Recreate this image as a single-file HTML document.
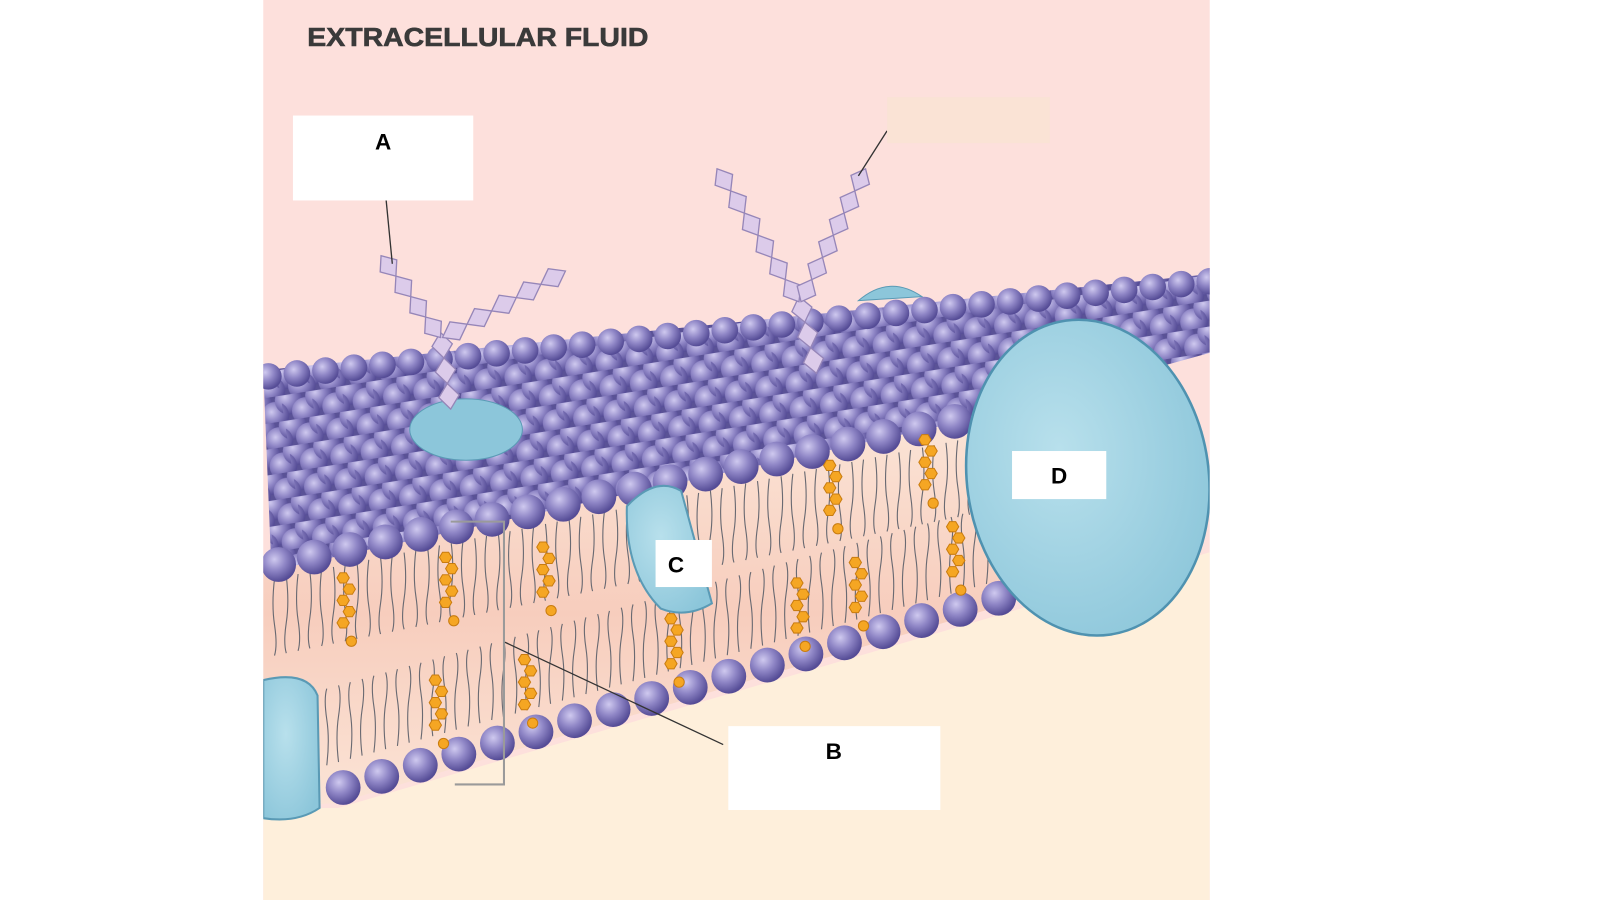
<!DOCTYPE html>
<html><head><meta charset="utf-8"><style>
html,body{margin:0;padding:0;background:#fff;width:1600px;height:900px;overflow:hidden}
svg{display:block}
</style></head><body>
<svg id="s" width="1600" height="900" viewBox="0 0 1562 880" preserveAspectRatio="none" xmlns="http://www.w3.org/2000/svg">
<defs>
<radialGradient id="ball" cx="0.38" cy="0.35" r="0.65">
<stop offset="0" stop-color="#cfc9ef"/><stop offset="0.5" stop-color="#8f86c6"/><stop offset="1" stop-color="#554c96"/>
</radialGradient>
<radialGradient id="prot" cx="0.4" cy="0.4" r="0.7">
<stop offset="0" stop-color="#b8e0ec"/><stop offset="1" stop-color="#8cc6da"/>
</radialGradient>
<pattern id="heads" width="30" height="25" patternUnits="userSpaceOnUse" patternTransform="rotate(-9)">
<rect width="30" height="25" fill="#5a5296"/>
<circle cx="7" cy="6" r="13.5" fill="url(#ball)"/>
<circle cx="22" cy="18.5" r="13.5" fill="url(#ball)"/>
<circle cx="37" cy="6" r="13.5" fill="url(#ball)"/>
<circle cx="-8" cy="18.5" r="13.5" fill="url(#ball)"/>
</pattern>
<linearGradient id="side" x1="0" y1="0" x2="0" y2="1">
<stop offset="0" stop-color="#fbe4d6"/><stop offset="0.5" stop-color="#f7cdbd"/><stop offset="1" stop-color="#fbe4d6"/>
</linearGradient>
<clipPath id="panel"><rect x="257" y="0" width="924" height="880"/></clipPath>
</defs>
<rect x="257" y="0" width="924" height="880" fill="#fde0dc"/>
<g clip-path="url(#panel)">
<polygon points="257,790 330,790 980,600 1181,540 1181,880 257,880" fill="#feefdb"/>
<polygon points="257,555 940,410 985,590 330,785 257,790" fill="url(#side)"/>
<g id="tails" stroke="#6a6a72" stroke-width="1.1" fill="none"></g>
<polygon points="257,362 1181,268 1181,345 940,412 265,558" fill="url(#heads)"/>
<g id="back"></g>
<g id="front"></g>
<g id="bottom"></g>
<g id="chol" fill="#f5a623" stroke="#c97c10" stroke-width="1"></g>
<ellipse cx="455" cy="420" rx="55" ry="30" fill="#8cc6da" stroke="#5a9ab5"/>
<path d="M838,294 Q868,268 900,290 Z" fill="#8cc6da" stroke="#5a9ab5"/>
<path d="M612,495 Q640,465 665,480 L695,590 Q670,605 645,595 Q610,560 612,495 Z" fill="url(#prot)" stroke="#5a9ab5" stroke-width="2"/>
<path d="M257,665 Q300,655 310,680 L312,790 Q290,805 257,800 Z" fill="url(#prot)" stroke="#5a9ab5" stroke-width="2"/>
<ellipse cx="1062" cy="467" rx="118" ry="155" transform="rotate(-8 1062 467)" fill="url(#prot)" stroke="#4f92b0" stroke-width="2.5"/>
</g>
<text x="300" y="45" font-family="Liberation Sans, sans-serif" font-weight="bold" font-size="25" fill="#3a3a3a" stroke="#3a3a3a" stroke-width="0.6" textLength="333" lengthAdjust="spacingAndGlyphs">EXTRACELLULAR  FLUID</text>
<g id="glyco" fill="#dccbea" stroke="#9686b8" stroke-width="1.3"></g>
<polyline points="440,510 492,510 492,767 444,767" fill="none" stroke="#9a9a9a" stroke-width="2"/>
<line x1="493" y1="628" x2="706" y2="728" stroke="#333" stroke-width="1.3"/>
<line x1="377" y1="196" x2="383" y2="258" stroke="#333" stroke-width="1.3"/>
<line x1="866" y1="128" x2="838" y2="172" stroke="#333" stroke-width="1.3"/>
<rect x="286" y="113" width="176" height="83" fill="#fff"/>
<rect x="866" y="95" width="159" height="45" fill="#fae3d5"/>
<rect x="711" y="710" width="207" height="82" fill="#fff"/>
<rect x="640" y="528" width="55" height="46" fill="#fff"/>
<rect x="988" y="441" width="92" height="47" fill="#fff"/>
<g font-family="Liberation Sans, sans-serif" font-weight="bold" font-size="22" fill="#000" text-anchor="middle">
<text x="374" y="146">A</text>
<text x="814" y="742">B</text>
<text x="660" y="560">C</text>
<text x="1034" y="473">D</text>
</g>
</svg>
<script>
var NS="http://www.w3.org/2000/svg";
function el(p,t,a){var e=document.createElementNS(NS,t);for(var k in a)e.setAttribute(k,a[k]);document.getElementById(p).appendChild(e);return e;}
for(var i=0;i<=60;i++){var u=i/60;var x=268+u*690,yt=552-u*140+14,yb=775-u*190-14;
 var wig=(i%2?3:-3);
 el("tails","path",{d:"M"+x+","+yt+" q"+wig+",25 0,45 t0,30"});
 el("tails","path",{d:"M"+(x+5)+","+yb+" q"+(-wig)+",-25 0,-45 t0,-30"});}
// bumpy back edge
for(var i=0;i<=33;i++){var u=i/33;el("back","circle",{cx:262+u*919,cy:368-u*93,r:13,fill:"url(#ball)"});}
for(var i=0;i<=19;i++){var u=i/19;el("front","circle",{cx:272+u*660,cy:552-u*140,r:17,fill:"url(#ball)"});}
for(var i=0;i<=17;i++){var u=i/17;el("bottom","circle",{cx:335+u*640,cy:770-u*185,r:17,fill:"url(#ball)"});}
[[335,565],[435,545],[530,535],[655,605],[512,645],[425,665],[810,455],[903,430],[778,570],[835,550],[930,515]].forEach(function(c){
 var x=c[0],y=c[1];for(var k=0;k<5;k++){var xx=x+(k%2?6:0),yy=y+k*11;
 el("chol","polygon",{points:[[xx-6,yy],[xx-3,yy-5],[xx+3,yy-5],[xx+6,yy],[xx+3,yy+5],[xx-3,yy+5]].map(function(p){return p.join(",")}).join(" ")});}
 el("chol","circle",{cx:x+8,cy:y+62,r:5});});
function chain(x1,y1,x2,y2,n){for(var k=0;k<n;k++){var t=(k+0.5)/n;var cx=x1+(x2-x1)*t,cy=y1+(y2-y1)*t;
 var ang=Math.atan2(y2-y1,x2-x1)*180/Math.PI;var L=Math.hypot(x2-x1,y2-y1)/n/2;
 el("glyco","polygon",{points:(-L)+",0 0,-10 "+L+",0 0,10",transform:"translate("+cx+","+cy+") rotate("+ang+")"});}}
chain(440,400,430,325,3);chain(430,330,372,250,4);chain(432,330,552,265,5);
chain(797,365,780,290,3);chain(780,295,700,165,6);chain(782,295,845,165,6);
</script>
</body></html>
